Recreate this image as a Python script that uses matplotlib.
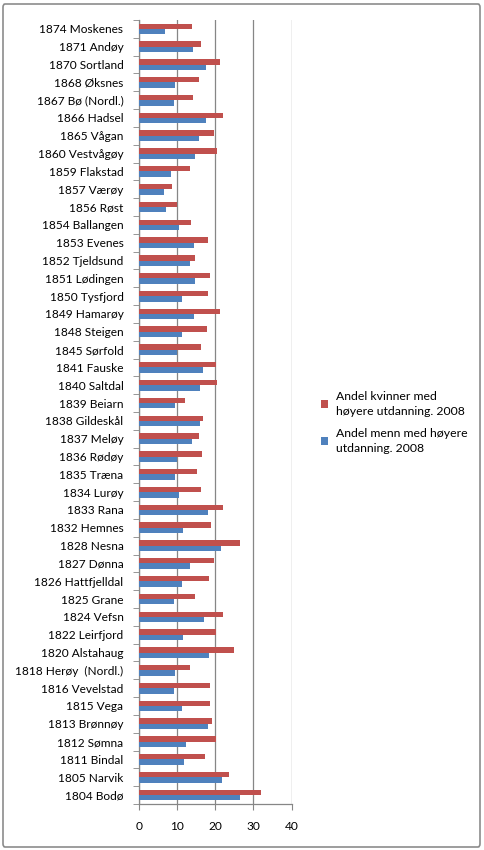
import matplotlib.pyplot as plt
import numpy as np
from matplotlib.patches import FancyBboxPatch

# kommuner, top to bottom as in the chart
kommuner = ["1874 Moskenes", "1871 Andøy", "1870 Sortland", "1868 Øksnes", "1867 Bø (Nordl.)",
            "1866 Hadsel", "1865 Vågan", "1860 Vestvågøy", "1859 Flakstad", "1857 Værøy",
            "1856 Røst", "1854 Ballangen", "1853 Evenes", "1852 Tjeldsund", "1851 Lødingen",
            "1850 Tysfjord", "1849 Hamarøy", "1848 Steigen", "1845 Sørfold", "1841 Fauske",
            "1840 Saltdal", "1839 Beiarn", "1838 Gildeskål", "1837 Meløy", "1836 Rødøy",
            "1835 Træna", "1834 Lurøy", "1833 Rana", "1832 Hemnes", "1828 Nesna",
            "1827 Dønna", "1826 Hattfjelldal", "1825 Grane", "1824 Vefsn", "1822 Leirfjord",
            "1820 Alstahaug", "1818 Herøy  (Nordl.)", "1816 Vevelstad", "1815 Vega", "1813 Brønnøy",
            "1812 Sømna", "1811 Bindal", "1805 Narvik", "1804 Bodø"]

kvinner = [13.9, 16.3, 21.3, 15.8, 14.2,
           22.0, 19.7, 20.5, 13.4, 8.7,
           10.0, 13.7, 18.1, 14.7, 18.6,
           18.1, 21.3, 17.9, 16.3, 20.2,
           20.5, 12.1, 16.8, 15.8, 16.6,
           15.3, 16.3, 22.0, 18.9, 26.5,
           19.7, 18.4, 14.7, 22.0, 20.2,
           24.9, 13.4, 18.6, 18.6, 19.2,
           20.2, 17.3, 23.6, 32.0]

menn = [6.9, 14.2, 17.6, 9.5, 9.1,
        17.6, 15.8, 14.7, 8.5, 6.6,
        7.1, 10.5, 14.5, 13.4, 14.7,
        11.3, 14.5, 11.3, 10.0, 16.8,
        16.0, 9.5, 16.0, 13.9, 10.0,
        9.5, 10.5, 18.1, 11.6, 21.5,
        13.4, 11.3, 9.2, 17.1, 11.6,
        18.4, 9.5, 9.2, 11.3, 18.1,
        12.4, 11.9, 21.8, 26.5]

xticks = [0, 10, 20, 30, 40]

red = '#C0504D'
blue = '#4F81BD'
grey = '#868686'

plt.rcParams['font.family'] = ['Lato', 'DejaVu Sans']

fig = plt.figure(figsize=(4.84, 8.5), dpi=100)
ax = fig.add_axes([138.7 / 484, 1 - 804 / 850, (291.7 - 138.7) / 484, (804 - 20) / 850])

y = np.arange(len(kommuner))
h = 0.3
ax.barh(y - h / 2, kvinner, height=h, color=red, label='Andel kvinner med\nhøyere utdanning. 2008', zorder=3)
ax.barh(y + h / 2, menn, height=h, color=blue, label='Andel menn med høyere\nutdanning. 2008', zorder=3)

ax.set_xlim(0, 40)
ax.set_ylim(len(kommuner) - 0.5, -0.5)
ax.set_xticks(xticks)
ax.set_yticks(y)
ax.set_yticklabels(kommuner, fontsize=8.6)
ax.set_yticks(np.arange(len(kommuner) + 1) - 0.5, minor=True)
ax.tick_params(axis='y', which='major', length=0, pad=11)
ax.tick_params(axis='y', which='minor', length=4, color=grey, direction='out')
ax.tick_params(axis='x', length=4, color=grey, pad=8, labelsize=8.6)

ax.grid(axis='x', color=grey, linewidth=0.9, zorder=0)
for s in ['top', 'right']:
    ax.spines[s].set_visible(False)
for s in ['left', 'bottom']:
    ax.spines[s].set_color(grey)
    ax.spines[s].set_linewidth(0.9)

handles, labels = ax.get_legend_handles_labels()
leg = fig.legend(handles, labels, loc='upper left', bbox_to_anchor=(316 / 484, 1 - 386 / 850),
                 frameon=False, fontsize=8.8, handlelength=0.6, handleheight=0.6,
                 handletextpad=0.6, labelspacing=0.9, borderaxespad=0)
for t in leg.get_texts():
    t.set_linespacing(1.45)

# outer chart border
border = FancyBboxPatch((3 / 484, 3 / 850), 477 / 484, 843 / 850,
                        boxstyle='round,pad=0,rounding_size=0.004',
                        transform=fig.transFigure, fill=False, edgecolor='#8c8c8c', linewidth=1.2)
fig.patches.append(border)

fig.savefig('out.png', dpi=100)
